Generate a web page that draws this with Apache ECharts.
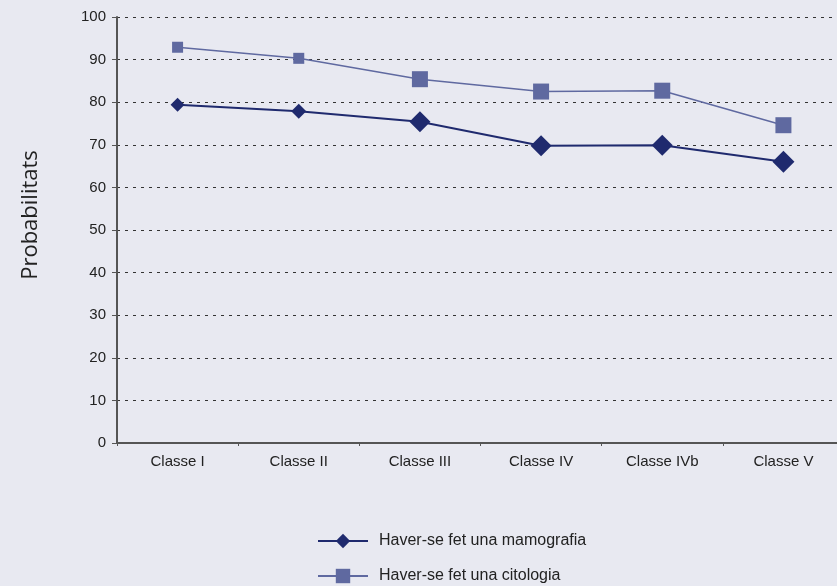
<!DOCTYPE html>
<html>
<head>
<meta charset="utf-8">
<script src="https://cdn.jsdelivr.net/npm/echarts@6/dist/echarts.min.js"></script>
<style>
html,body{margin:0;padding:0;background:#e8e9f1;overflow:hidden;}
#chart{width:844px;height:586px;}
</style>
</head>
<body>
<div id="chart"></div>
<script>
var categories = ['Classe I', 'Classe II', 'Classe III', 'Classe IV', 'Classe IVb', 'Classe V'];
var mamografia = [79.4, 77.9, 75.4, 69.8, 69.9, 66.0];
var citologia = [92.9, 90.3, 85.4, 82.5, 82.7, 74.6];
var seriesNames = ['Haver-se fet una mamografia', 'Haver-se fet una citologia'];
var yAxisName = 'Probabilitats';

var diamondSizes = [14, 15, 21, 21, 21, 22];
var squareSizes = [11, 11, 16, 16, 16, 16];

var chart = echarts.init(document.getElementById('chart'), null, {renderer: 'canvas'});
var fontTick = 'Liberation Sans, Arial, sans-serif';
function legendAt(name, top) {
  return {
    orient: 'horizontal',
    left: 317,
    top: top,
    padding: 0,
    itemWidth: 50,
    itemHeight: 18,
    textStyle: {fontFamily: fontTick, fontSize: 16, color: '#222', padding: [0, 0, 0, 6]},
    data: [name]
  };
}
chart.setOption({
  backgroundColor: '#e8e9f1',
  animation: false,
  grid: {left: 117, right: 0, top: 17, bottom: 143, containLabel: false},
  graphic: [{
    type: 'text',
    x: 31, y: 215,
    rotation: Math.PI / 2,
    style: {
      text: yAxisName,
      fill: '#222',
      font: '22px "Open Sans", "Noto Sans", sans-serif',
      textAlign: 'center',
      textVerticalAlign: 'middle'
    }
  }],
  legend: [legendAt(seriesNames[0], 533), legendAt(seriesNames[1], 568)],
  xAxis: {
    type: 'category',
    data: categories,
    boundaryGap: true,
    axisLine: {lineStyle: {color: '#555', width: 2}},
    axisTick: {show: true, length: 3, lineStyle: {color: '#555', width: 1}},
    axisLabel: {fontFamily: fontTick, fontSize: 15, color: '#222', margin: 11}
  },
  yAxis: {
    type: 'value',
    min: 0, max: 100, interval: 10,
    axisLine: {show: true, lineStyle: {color: '#555', width: 2}},
    axisTick: {show: true, length: 5, lineStyle: {color: '#555', width: 1}},
    axisLabel: {fontFamily: fontTick, fontSize: 15, color: '#222', margin: 11},
    splitLine: {show: true, lineStyle: {color: '#333', type: [3, 5], width: 1}}
  },
  series: [
    {
      name: seriesNames[0],
      type: 'line',
      data: mamografia.map(function (v, i) { return {value: v, symbolSize: diamondSizes[i]}; }),
      symbol: 'diamond',
      lineStyle: {color: '#1f2a6e', width: 2},
      itemStyle: {color: '#1f2a6e'},
      z: 3
    },
    {
      name: seriesNames[1],
      type: 'line',
      data: citologia.map(function (v, i) { return {value: v, symbolSize: squareSizes[i]}; }),
      symbol: 'rect',
      lineStyle: {color: '#5f69a0', width: 1.5},
      itemStyle: {color: '#5f69a0'},
      z: 2
    }
  ]
});
</script>
</body>
</html>
